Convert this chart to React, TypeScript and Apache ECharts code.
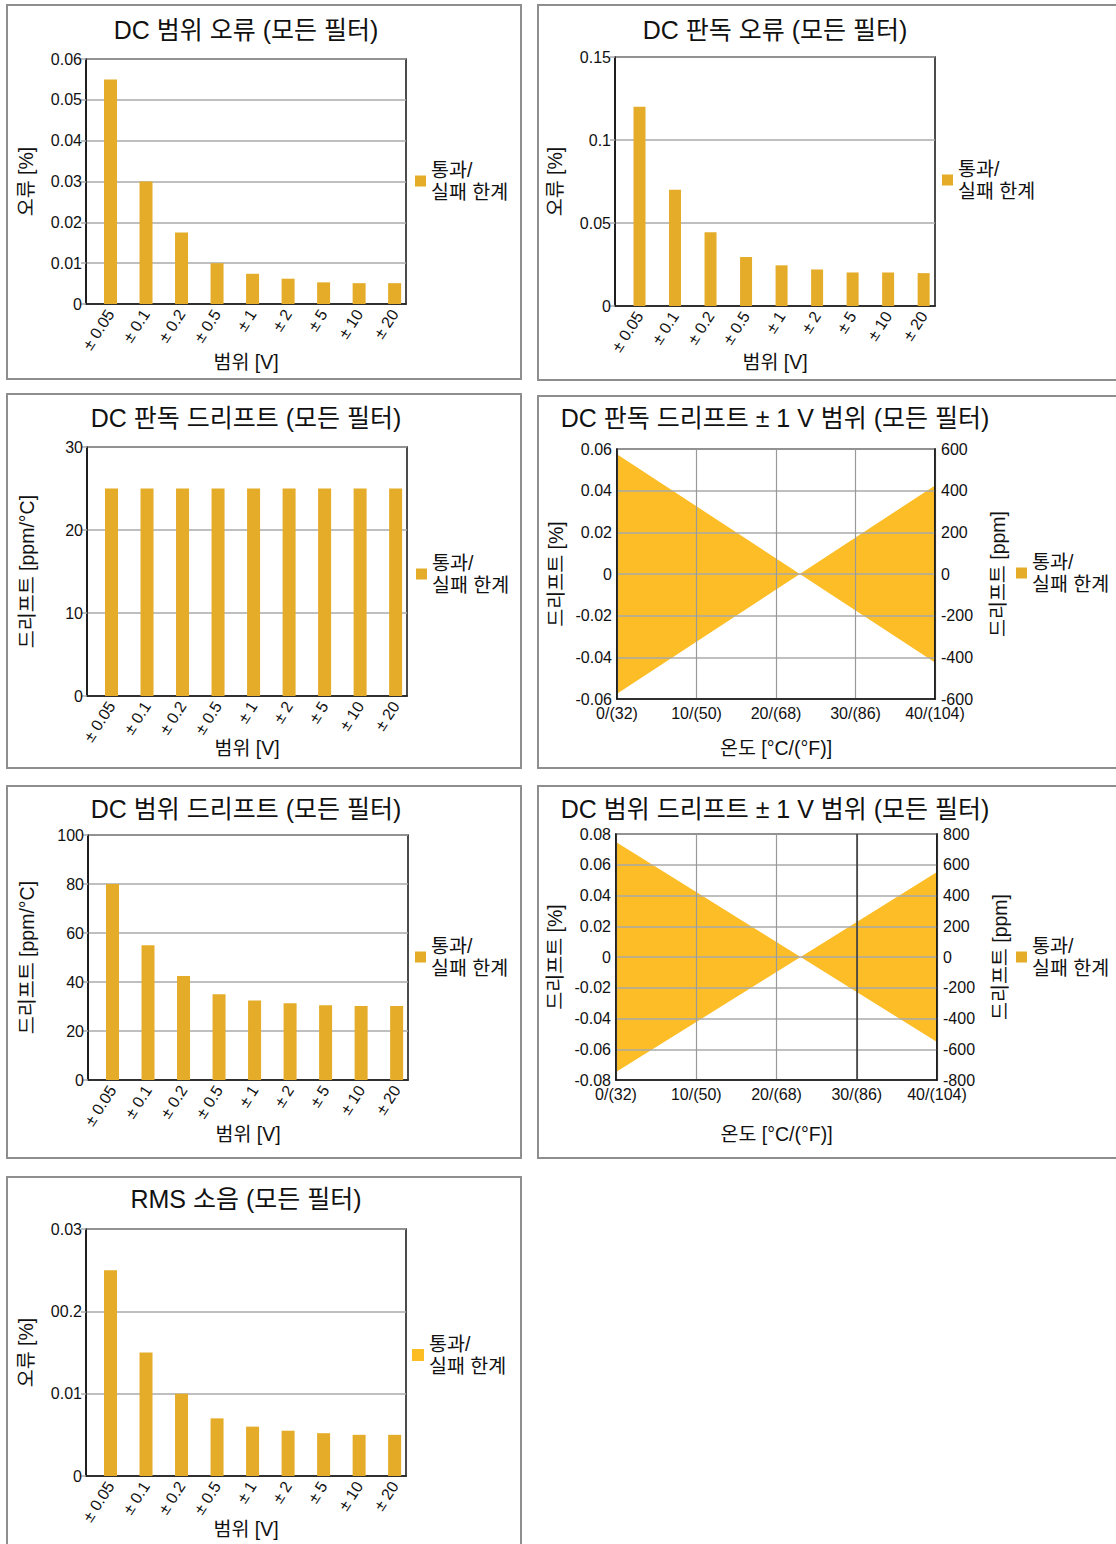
import React, { useEffect, useRef } from "react";
import * as echarts from "echarts";

// ---------------- data ----------------
const rangeCategories = ["± 0.05", "± 0.1", "± 0.2", "± 0.5", "± 1", "± 2", "± 5", "± 10", "± 20"];
const dcRangeError = [0.055, 0.03, 0.0175, 0.01, 0.0074, 0.0062, 0.0053, 0.0051, 0.0051];
const dcReadError = [0.12, 0.07, 0.0445, 0.0295, 0.0245, 0.022, 0.0202, 0.0202, 0.0198];
const dcReadDrift = [25, 25, 25, 25, 25, 25, 25, 25, 25];
const dcRangeDrift = [80, 55, 42.5, 35, 32.5, 31.3, 30.5, 30.2, 30.2];
const rmsNoise = [0.025, 0.015, 0.01, 0.007, 0.006, 0.0055, 0.0052, 0.005, 0.005];
const rmsTickLabels = ["0", "0.01", "00.2", "0.03"];

const tempTicks = [0, 10, 20, 30, 40];
const tempLabels = ["0/(32)", "10/(50)", "20/(68)", "30/(86)", "40/(104)"];
const bandTemps = [0, 23, 40];
const readDriftUpper = [0.0575, 0, 0.0425];
const readDriftLower = [-0.0575, 0, -0.0425];
const rangeDriftUpper = [0.0748, 0, 0.0553];
const rangeDriftLower = [-0.0748, 0, -0.0553];

const LEGEND_NAME = "통과/\n실패 한계";

// ---------------- styles ----------------
const FONT = "'Liberation Sans', Arial, 'Noto Sans CJK KR', sans-serif";
const BAR = "#E4AC29";
const FILL = "#FCBD26";
const INK = "#111";
const GRIDC = "#aaa";
const NAME_SIZE = 19.5;

function titleGraphic(text: string, x: number, y: number) {
  return [
    {
      type: "text",
      x,
      y,
      style: {
        text,
        fill: INK,
        font: `25px ${FONT}`,
        align: "center",
        verticalAlign: "middle",
      },
    },
  ];
}

function legendOpt(left: number, top: number, color: string, size = 11) {
  return {
    left,
    top,
    padding: 0,
    orient: "vertical",
    selectedMode: false,
    icon: "rect",
    itemWidth: size,
    itemHeight: size,
    data: [{ name: LEGEND_NAME, icon: "rect", itemStyle: { color } }],
    textStyle: { fontSize: NAME_SIZE, color: INK, lineHeight: 22, fontFamily: FONT },
  };
}

function gridOpt(g: number[]) {
  return {
    left: g[0],
    top: g[1],
    width: g[2],
    height: g[3],
    show: true,
    borderColor: INK,
    borderWidth: 1.5,
    containLabel: false,
    outerBoundsMode: "none",
  };
}

function barOption(cfg: any) {
  return {
    animation: false,
    textStyle: { fontFamily: FONT },
    graphic: titleGraphic(cfg.title, cfg.titleX, cfg.titleY),
    legend: legendOpt(cfg.legendLeft, cfg.legendTop, cfg.legendColor || BAR, cfg.legendSize || 11),
    grid: gridOpt(cfg.grid),
    xAxis: {
      type: "value",
      min: -0.69,
      max: 8.32,
      name: "범위 [V]",
      nameLocation: "middle",
      nameGap: cfg.xNameGap,
      nameMoveOverlap: false,
      nameTextStyle: { fontSize: NAME_SIZE, color: INK, fontFamily: FONT },
      axisLine: { show: true, onZero: false, lineStyle: { color: INK, width: 1.5 } },
      axisTick: { show: false },
      splitLine: { show: false },
      axisLabel: {
        customValues: rangeCategories.map((_, i) => i),
        formatter: (v: number) => rangeCategories[Math.round(v)] ?? "",
        rotate: 57,
        margin: 7,
        padding: [8, 0, 0, 0],
        fontSize: 16,
        color: INK,
        fontFamily: FONT,
      },
    },
    yAxis: {
      type: "value",
      min: 0,
      max: cfg.max,
      interval: cfg.interval,
      name: cfg.yName,
      nameLocation: "middle",
      nameRotate: 90,
      nameGap: cfg.yNameGap,
      nameMoveOverlap: false,
      nameTextStyle: { fontSize: NAME_SIZE, color: INK, fontFamily: FONT },
      axisLine: { show: true, onZero: false, lineStyle: { color: INK, width: 1.5 } },
      axisTick: { show: true, length: 5, lineStyle: { color: GRIDC, width: 1.5 } },
      splitLine: { show: true, lineStyle: { color: GRIDC, width: 1.5 } },
      axisLabel: {
        fontSize: 16,
        color: INK,
        margin: 4,
        fontFamily: FONT,
        formatter: cfg.yLabels ? (v: number, i: number) => cfg.yLabels[i] : undefined,
      },
    },
    series: [
      {
        type: "bar",
        name: LEGEND_NAME,
        data: cfg.values.map((v: number, i: number) => [i, v]),
        barWidth: cfg.barWidth || 13,
        itemStyle: { color: BAR },
      },
    ],
  };
}

function bandOption(cfg: any) {
  const upper = cfg.upper;
  const lower = cfg.lower;
  return {
    animation: false,
    textStyle: { fontFamily: FONT },
    graphic: titleGraphic(cfg.title, cfg.titleX, cfg.titleY),
    legend: legendOpt(cfg.legendLeft, cfg.legendTop, BAR),
    grid: gridOpt(cfg.grid),
    xAxis: {
      type: "value",
      min: 0,
      max: 40,
      interval: 10,
      name: "온도 [°C/(°F)]",
      nameLocation: "middle",
      nameGap: cfg.xNameGap,
      nameMoveOverlap: false,
      nameTextStyle: { fontSize: NAME_SIZE, color: INK, fontFamily: FONT },
      axisLine: { show: true, onZero: false, lineStyle: { color: INK, width: 1.5 } },
      axisTick: { show: false },
      splitLine: { show: true, lineStyle: { color: "#999", width: 1.2 } },
      axisLabel: {
        formatter: (v: number) => tempLabels[tempTicks.indexOf(v)] ?? "",
        margin: 6,
        fontSize: 16,
        color: INK,
        fontFamily: FONT,
      },
    },
    yAxis: [
      {
        type: "value",
        position: "left",
        min: -cfg.pct,
        max: cfg.pct,
        interval: 0.02,
        name: "드리프트 [%]",
        nameLocation: "middle",
        nameRotate: 90,
        nameGap: cfg.yNameGap,
        nameMoveOverlap: false,
        nameTextStyle: { fontSize: NAME_SIZE, color: INK, fontFamily: FONT },
        axisLine: { show: true, onZero: false, lineStyle: { color: INK, width: 1.5 } },
        axisTick: { show: false },
        splitLine: { show: true, lineStyle: { color: GRIDC, width: 1.5 } },
        axisLabel: { fontSize: 16, color: INK, margin: 5, fontFamily: FONT },
      },
      {
        type: "value",
        position: "right",
        min: -cfg.ppm,
        max: cfg.ppm,
        interval: 200,
        name: "드리프트 [ppm]",
        nameLocation: "middle",
        nameRotate: 90,
        nameGap: cfg.y2NameGap,
        nameMoveOverlap: false,
        nameTextStyle: { fontSize: NAME_SIZE, color: INK, fontFamily: FONT },
        axisLine: { show: true, onZero: false, lineStyle: { color: INK, width: 1.5 } },
        axisTick: { show: false },
        splitLine: { show: false },
        axisLabel: { fontSize: 16, color: INK, margin: 6, fontFamily: FONT },
      },
    ],
    series: [
      {
        type: "custom",
        name: LEGEND_NAME,
        coordinateSystem: "cartesian2d",
        xAxisIndex: 0,
        yAxisIndex: 0,
        z: -1,
        itemStyle: { color: FILL },
        data: bandTemps.map((t, i) => [t, upper[i], lower[i]]),
        encode: { x: 0, y: [1, 2] },
        renderItem: (params: any, api: any) => {
          if (params.dataIndex !== 0) return null;
          const pts: number[][] = [];
          for (let i = 0; i < bandTemps.length; i++) pts.push(api.coord([bandTemps[i], upper[i]]));
          for (let i = bandTemps.length - 1; i >= 0; i--) pts.push(api.coord([bandTemps[i], lower[i]]));
          return { type: "polygon", shape: { points: pts }, style: { fill: FILL } };
        },
        markLine: cfg.darkLineAt != null
          ? {
              silent: true,
              symbol: "none",
              label: { show: false },
              lineStyle: { color: "#333", width: 1.5, type: "solid" },
              data: [{ xAxis: cfg.darkLineAt }],
            }
          : undefined,
      },
    ],
  };
}

// ---------------- panels ----------------
const panels = [
  {
    left: 6, top: 4, width: 516, height: 376,
    option: barOption({
      title: "DC 범위 오류 (모든 필터)", titleX: 240, titleY: 26,
      grid: [80, 55, 320, 245], max: 0.06, interval: 0.01, yName: "오류 [%]",
      yNameGap: 50, xNameGap: 48, legendLeft: 409, legendTop: 155, values: dcRangeError,
    }),
  },
  {
    left: 537, top: 4, width: 600, height: 377,
    option: barOption({
      title: "DC 판독 오류 (모든 필터)", titleX: 238, titleY: 26,
      grid: [78, 53, 320, 249], max: 0.15, interval: 0.05, yName: "오류 [%]",
      yNameGap: 50, xNameGap: 46, legendLeft: 405, legendTop: 154, values: dcReadError, barWidth: 12,
    }),
  },
  {
    left: 6, top: 393, width: 516, height: 376,
    option: barOption({
      title: "DC 판독 드리프트 (모든 필터)", titleX: 240, titleY: 25,
      grid: [81, 54, 320, 249], max: 30, interval: 10, yName: "드리프트 [ppm/°C]",
      yNameGap: 50, xNameGap: 42, legendLeft: 410, legendTop: 159, values: dcReadDrift,
    }),
  },
  {
    left: 537, top: 395, width: 600, height: 374,
    option: bandOption({
      title: "DC 판독 드리프트 ± 1 V 범위 (모든 필터)", titleX: 238, titleY: 23,
      grid: [80, 54, 318, 250], pct: 0.06, ppm: 600, upper: readDriftUpper, lower: readDriftLower,
      yNameGap: 51, y2NameGap: 53, xNameGap: 39, legendLeft: 479, legendTop: 156,
    }),
  },
  {
    left: 6, top: 785, width: 516, height: 374,
    option: barOption({
      title: "DC 범위 드리프트 (모든 필터)", titleX: 240, titleY: 24,
      grid: [82, 50, 320, 245], max: 100, interval: 20, yName: "드리프트 [ppm/°C]",
      yNameGap: 51, xNameGap: 44, legendLeft: 409, legendTop: 150, values: dcRangeDrift,
    }),
  },
  {
    left: 537, top: 785, width: 600, height: 374,
    option: bandOption({
      title: "DC 범위 드리프트 ± 1 V 범위 (모든 필터)", titleX: 238, titleY: 24,
      grid: [79, 49, 321, 246], pct: 0.08, ppm: 800, upper: rangeDriftUpper, lower: rangeDriftLower,
      yNameGap: 51, y2NameGap: 53, xNameGap: 44, legendLeft: 479, legendTop: 150, darkLineAt: 30,
    }),
  },
  {
    left: 6, top: 1176, width: 516, height: 380,
    option: barOption({
      title: "RMS 소음 (모든 필터)", titleX: 240, titleY: 23,
      grid: [80, 53, 320, 247], max: 0.03, interval: 0.01, yName: "오류 [%]", yLabels: rmsTickLabels,
      yNameGap: 50, xNameGap: 43, legendLeft: 406, legendTop: 157, values: rmsNoise,
      legendColor: "#FBBD23", legendSize: 12,
    }),
  },
];

function Panel(props: any) {
  const ref = useRef<HTMLDivElement>(null);
  const { left, top, width, height, option } = props;
  useEffect(() => {
    if (!ref.current) return;
    const chart = echarts.init(ref.current, null, { renderer: "svg" });
    chart.setOption(option);
    return () => chart.dispose();
  }, []);
  return (
    <div style={{ position: "absolute", left, top, width, height }}>
      <div ref={ref} style={{ position: "absolute", left: 0, top: 0, width, height }} />
      <div
        style={{
          position: "absolute",
          left: 0,
          top: 0,
          width,
          height,
          border: "2px solid #8e8e8e",
          boxSizing: "border-box",
          pointerEvents: "none",
        }}
      />
    </div>
  );
}

export default function App() {
  return (
    <div
      style={{
        position: "absolute",
        left: 0,
        top: 0,
        width: 1116,
        height: 1544,
        overflow: "hidden",
        background: "#fff",
      }}
    >
      {panels.map((p, i) => (
        <Panel key={i} {...p} />
      ))}
    </div>
  );
}
